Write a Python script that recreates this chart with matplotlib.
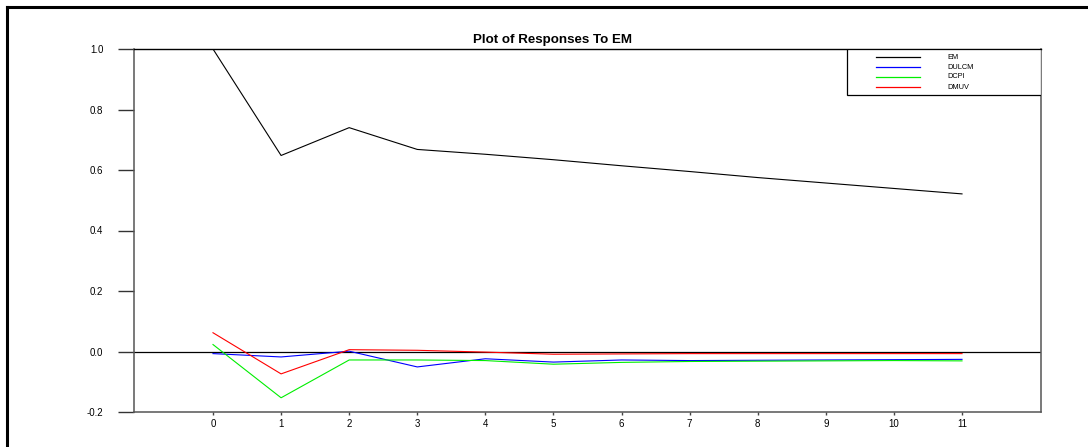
import matplotlib
matplotlib.use('Agg')
import matplotlib.pyplot as plt
from matplotlib.lines import Line2D
from matplotlib.patches import Rectangle

plt.rcParams['font.family'] = ['Liberation Sans', 'DejaVu Sans']

# Response horizons
steps = list(range(12))

# Responses to a shock in EM
em = [1.0, 0.648, 0.740, 0.668, 0.652, 0.634, 0.614, 0.595, 0.575, 0.557, 0.539, 0.521]
dulcm = [-0.007, -0.018, 0.001, -0.051, -0.024, -0.035, -0.028, -0.030, -0.029, -0.028, -0.027, -0.026]
dcpi = [0.023, -0.153, -0.028, -0.028, -0.030, -0.042, -0.036, -0.033, -0.032, -0.031, -0.030, -0.031]
dmuv = [0.062, -0.074, 0.006, 0.004, -0.002, -0.009, -0.008, -0.007, -0.007, -0.007, -0.007, -0.007]

series_names = ['EM', 'DULCM', 'DCPI', 'DMUV']
series_colors = ['black', '#0000ff', '#00ee00', '#ff0000']

y_ticks = [-0.2, 0.0, 0.2, 0.4, 0.6, 0.8, 1.0]

fig = plt.figure(figsize=(10.88, 4.47), dpi=100)
ax = fig.add_axes([134 / 1088, 1 - 412 / 447, (1041 - 134) / 1088, (412 - 49) / 447])

# outer frame (left and top edges visible)
fig.add_artist(Line2D([7 / 1088, 7 / 1088], [0, 1 - 7 / 447], transform=fig.transFigure,
                      color='black', lw=2.2))
fig.add_artist(Line2D([7 / 1088, 1], [1 - 7 / 447, 1 - 7 / 447], transform=fig.transFigure,
                      color='black', lw=2.2))

ax.axhline(0, color='black', lw=0.9, zorder=1)
for vals, name, col in zip([em, dulcm, dcpi, dmuv], series_names, series_colors):
    ax.plot(steps, vals, color=col, lw=0.8, label=name, zorder=2)

ax.set_xlim(-1.16, 12.16)
ax.set_ylim(-0.2, 1.0)
ax.set_xticks(steps)
ax.set_yticks(y_ticks)
ax.set_yticklabels(['%.1f' % v for v in y_ticks])
ax.tick_params(axis='y', length=11.5, width=1.0, color='#333333', labelsize=7, pad=10.5)
ax.tick_params(axis='x', length=2.5, width=1.0, color='#444444', labelsize=7, pad=2.5)

for side in ['left', 'bottom', 'right']:
    ax.spines[side].set_color('#555555')
    ax.spines[side].set_linewidth(1.1)
ax.spines['top'].set_color('black')
ax.spines['top'].set_linewidth(1.0)

# title, sits slightly left of the axes centre
ax.text(0.461, 1.0 + 3 / 363, 'Plot of Responses To EM', transform=ax.transAxes,
        ha='center', va='bottom', fontsize=9.6, fontweight='bold')

# legend box in the top right corner
ax.add_patch(Rectangle((0.786, 0.873), 0.214, 0.127, transform=ax.transAxes,
                       facecolor='white', edgecolor='black', lw=0.9, zorder=4))
row_y = [0.977, 0.950, 0.923, 0.894]
for ry, name, col in zip(row_y, series_names, series_colors):
    ax.plot([0.818, 0.867], [ry, ry], transform=ax.transAxes, color=col, lw=0.9, zorder=5)
    ax.text(0.897, ry, name, transform=ax.transAxes, fontsize=5.3, va='center', ha='left',
            zorder=5)

fig.savefig('out.png', dpi=100)
